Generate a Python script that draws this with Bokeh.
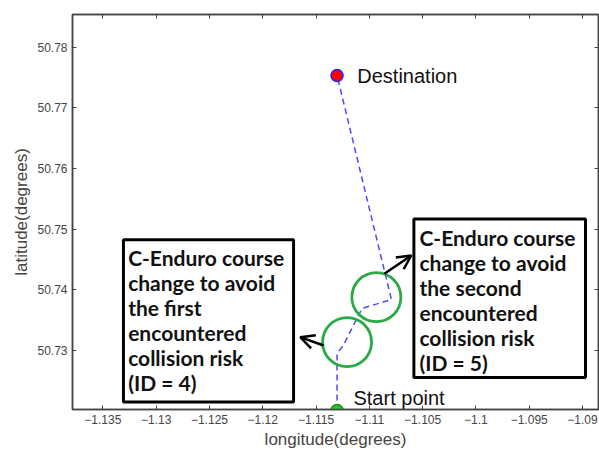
from bokeh.plotting import figure
from bokeh.models import (LinearAxis, FixedTicker, Range1d, Arrow, OpenHead)
from bokeh.core.properties import value
from bokeh.embed import file_html
from bokeh.resources import INLINE

# ---- data -----------------------------------------------------------
x_ticks = [-1.135, -1.13, -1.125, -1.12, -1.115, -1.11, -1.105, -1.1, -1.095, -1.09]
y_ticks = [50.73, 50.74, 50.75, 50.76, 50.77, 50.78]

route_lon = [-1.11303, -1.11303, -1.11244, -1.11069, -1.10793, -1.11303]
route_lat = [50.72015, 50.72954, 50.73086, 50.73695, 50.73843, 50.77534]

start_lon, start_lat = [-1.11303], [50.72015]
dest_lon, dest_lat = [-1.11303], [50.77534]

risk_lon = [-1.11209, -1.10934]
risk_lat = [50.73140, 50.73881]

box_left = [-1.13307, -1.10582]
box_right = [-1.11711, -1.08972]
box_top = [50.74827, 50.75170]
box_bottom = [50.72152, 50.72556]

box_text_x = [-1.13263, -1.10530]
box_text_y = [50.74740, 50.75070]
box_texts = [
    "C-Enduro course\nchange to avoid\nthe first\nencountered\ncollision risk\n(ID = 4)",
    "C-Enduro course\nchange to avoid\nthe second\nencountered\ncollision risk\n(ID = 5)",
]

arrow_x_start = [-1.11429, -1.10859]
arrow_y_start = [50.73085, 50.74267]
arrow_x_end = [-1.11648, -1.10606]
arrow_y_end = [50.73222, 50.74568]

point_label_x = [-1.11113, -1.11149]
point_label_y = [50.77534, 50.72213]
point_labels = ["Destination", "Start point"]

x_range = (-1.13785, -1.0885)
y_range = (50.7203, 50.7854)

# ---- figure ---------------------------------------------------------
p = figure(width=599, height=451, output_backend="svg", toolbar_location=None,
           x_range=Range1d(*x_range), y_range=Range1d(*y_range),
           min_border_left=72, min_border_right=1, min_border_top=14,
           min_border_bottom=42)
p.background_fill_color = "white"
p.border_fill_color = "white"
p.outline_line_color = "#444444"
p.outline_line_width = 1.5
p.grid.visible = False

axis_color = "#444444"
label_font = "Liberation Sans"

def style_axis(ax, ticks, show_labels):
    ax.ticker = FixedTicker(ticks=ticks)
    ax.axis_line_color = axis_color
    ax.axis_line_width = 1.5
    ax.major_tick_line_color = axis_color
    ax.major_tick_in = 4
    ax.major_tick_out = 0
    ax.minor_tick_line_color = None
    ax.major_label_text_font = label_font
    ax.major_label_text_color = "#444444"
    ax.major_label_text_font_size = "12px"
    if show_labels:
        ax.major_label_standoff = 5
    else:
        ax.major_label_overrides = {t: "" for t in ticks}
        ax.major_label_standoff = 0

xa = p.xaxis[0]
ya = p.yaxis[0]
style_axis(xa, x_ticks, True)
style_axis(ya, y_ticks, True)
xa.axis_label = "longitude(degrees)"
ya.axis_label = "latitude(degrees)"
for ax in (xa, ya):
    ax.axis_label_text_font = label_font
    ax.axis_label_text_font_style = "normal"
    ax.axis_label_text_font_size = "17px"
    ax.axis_label_text_color = "#444444"
    ax.axis_label_standoff = 3

top_ax = LinearAxis()
right_ax = LinearAxis()
style_axis(top_ax, x_ticks, False)
style_axis(right_ax, y_ticks, False)
p.add_layout(top_ax, "above")
p.add_layout(right_ax, "right")

# route
p.line(route_lon, route_lat, line_color="#4a4aff", line_width=1.5, line_dash="6 4")

# collision-risk circles
p.scatter(risk_lon, risk_lat, marker="circle", size=49, fill_color=None,
          line_color="#2aaa44", line_width=2.8)

# endpoints
p.scatter(dest_lon, dest_lat, marker="circle", size=12, fill_color="#ff0000",
          line_color="#2222ff", line_width=1.5)
p.scatter(start_lon, start_lat, marker="circle", size=12, fill_color="#22cc22",
          line_color="#119911", line_width=1.5)

# point labels
p.text(point_label_x, point_label_y, text=point_labels,
       text_font=value(label_font), text_font_size="20px", text_color="#111111",
       text_baseline="middle", text_align="left")

# annotation boxes
p.quad(left=box_left, right=box_right, top=box_top, bottom=box_bottom,
       fill_color="white", line_color="black", line_width=3)
p.text(box_text_x, box_text_y, text=box_texts, text_font=value("Lato"),
       text_font_style="bold", text_font_size="21px", text_color="#111111",
       text_baseline="top", text_align="left", text_line_height=1.0)

# arrows
for xs, ys, xe, ye in zip(arrow_x_start, arrow_y_start, arrow_x_end, arrow_y_end):
    p.add_layout(Arrow(end=OpenHead(size=14, line_width=2.5, line_color="black"),
                       x_start=xs, y_start=ys, x_end=xe, y_end=ye,
                       line_width=2.5, line_color="black"))

open("out.html", "w").write(file_html(p, INLINE))
